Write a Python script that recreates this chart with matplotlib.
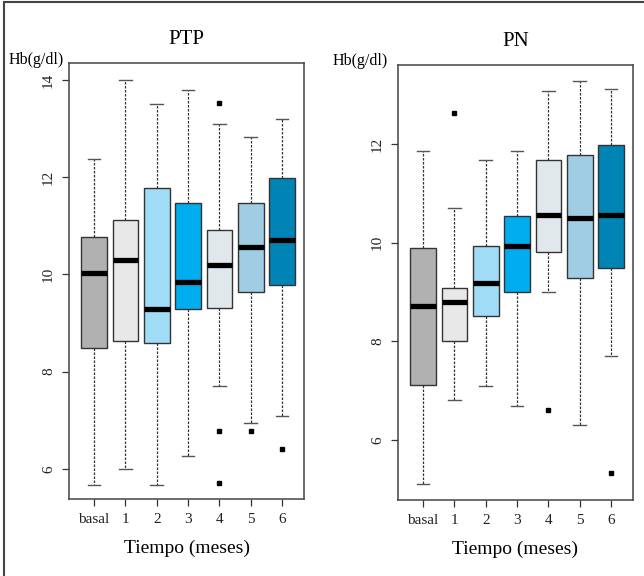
import matplotlib
matplotlib.use("Agg")
import matplotlib.pyplot as plt
from matplotlib.patches import Rectangle

plt.rcParams['font.family'] = ['Liberation Serif', 'DejaVu Serif']

categories = ["basal", "1", "2", "3", "4", "5", "6"]
colors = ["#B1B1B1", "#E8E8E8", "#A0DCF6", "#00AEEF", "#E0E8EC", "#A0CDE4", "#0083B5"]

# PTP: whisker low, Q1, median, Q3, whisker high, outliers
ptp_whislo = [5.67, 6.00, 5.67, 6.26, 7.70, 6.94, 7.08]
ptp_q1     = [8.49, 8.63, 8.59, 9.29, 9.31, 9.64, 9.78]
ptp_med    = [10.02, 10.30, 9.29, 9.84, 10.19, 10.56, 10.71]
ptp_q3     = [10.77, 11.12, 11.78, 11.47, 10.91, 11.47, 11.99]
ptp_whishi = [12.37, 14.00, 13.50, 13.80, 13.09, 12.83, 13.20]
ptp_fliers = [[], [], [], [], [13.52, 6.78, 5.71], [6.78], [6.41]]

# PN
pn_whislo = [5.10, 6.80, 7.09, 6.69, 9.00, 6.30, 7.70]
pn_q1     = [7.11, 8.00, 8.51, 9.00, 9.81, 9.28, 9.48]
pn_med    = [8.71, 8.80, 9.18, 9.94, 10.56, 10.50, 10.56]
pn_q3     = [9.88, 9.08, 9.92, 10.54, 11.68, 11.78, 11.98]
pn_whishi = [11.86, 10.70, 11.68, 11.86, 13.08, 13.28, 13.12]
pn_fliers = [[], [12.63], [], [], [6.60], [], [5.33]]

fig = plt.figure(figsize=(6.44, 5.76), dpi=100)
fig.patches.append(Rectangle((4/644, -0.01), 1.0, 1 - 1.5/576 + 0.01, transform=fig.transFigure,
                             fill=False, edgecolor="#444444", linewidth=1.5))

def panel(rect, title, wlo, q1, med, q3, whi, fl, ylim, yticks):
    ax = fig.add_axes(rect)
    stats = []
    for i in range(len(categories)):
        stats.append(dict(whislo=wlo[i], q1=q1[i], med=med[i], q3=q3[i], whishi=whi[i],
                          fliers=fl[i], label=categories[i]))
    bp = ax.bxp(stats, positions=range(1, len(categories) + 1), widths=0.82,
                patch_artist=True, showfliers=True,
                boxprops=dict(edgecolor="#333333", linewidth=1.0),
                medianprops=dict(color="black", linewidth=3.8, solid_capstyle="butt"),
                whiskerprops=dict(color="#333333", linewidth=0.9, linestyle=(0, (2.0, 1.2))),
                capprops=dict(color="#555555", linewidth=1.0),
                flierprops=dict(marker="s", markersize=2.2, markerfacecolor="black",
                                markeredgecolor="black", linestyle="none"))
    for patch, c in zip(bp["boxes"], colors):
        patch.set_facecolor(c)
    for cap in bp["caps"]:
        x = cap.get_xdata()
        m = (x[0] + x[1]) / 2
        cap.set_xdata([m - 0.2, m + 0.2])
    ax.set_xlim(0.2, 7.7)
    ax.set_ylim(*ylim)
    ax.set_yticks(yticks)
    ax.set_yticklabels([str(t) for t in yticks], rotation=90, va="center", fontsize=11, color="#222222")
    ax.set_xticks(range(1, len(categories) + 1))
    ax.set_xticklabels(categories, fontsize=11, color="#222222")
    ax.tick_params(axis="both", length=5, width=0.9, color="#333333", pad=5)
    for s in ax.spines.values():
        s.set_color("#444444")
        s.set_linewidth(1.1)
    ax.set_xlabel("Tiempo (meses)", fontsize=14, labelpad=10)
    ax.set_title(title, fontsize=15, pad=14)
    return ax

ax1 = panel([69/644, 1 - 499/576, 235/644, 436/576], "PTP",
            ptp_whislo, ptp_q1, ptp_med, ptp_q3, ptp_whishi, ptp_fliers,
            (5.38, 14.35), [6, 8, 10, 12, 14])
ax2 = panel([398/644, 1 - 500/576, 235/644, 435/576], "PN",
            pn_whislo, pn_q1, pn_med, pn_q3, pn_whishi, pn_fliers,
            (4.78, 13.6), [6, 8, 10, 12])

fig.text(36/644, 1 - 60/576, "Hb(g/dl)", ha="center", va="center", fontsize=11.5)
fig.text(360/644, 1 - 61/576, "Hb(g/dl)", ha="center", va="center", fontsize=11.5)

fig.savefig("out.png", dpi=100)
